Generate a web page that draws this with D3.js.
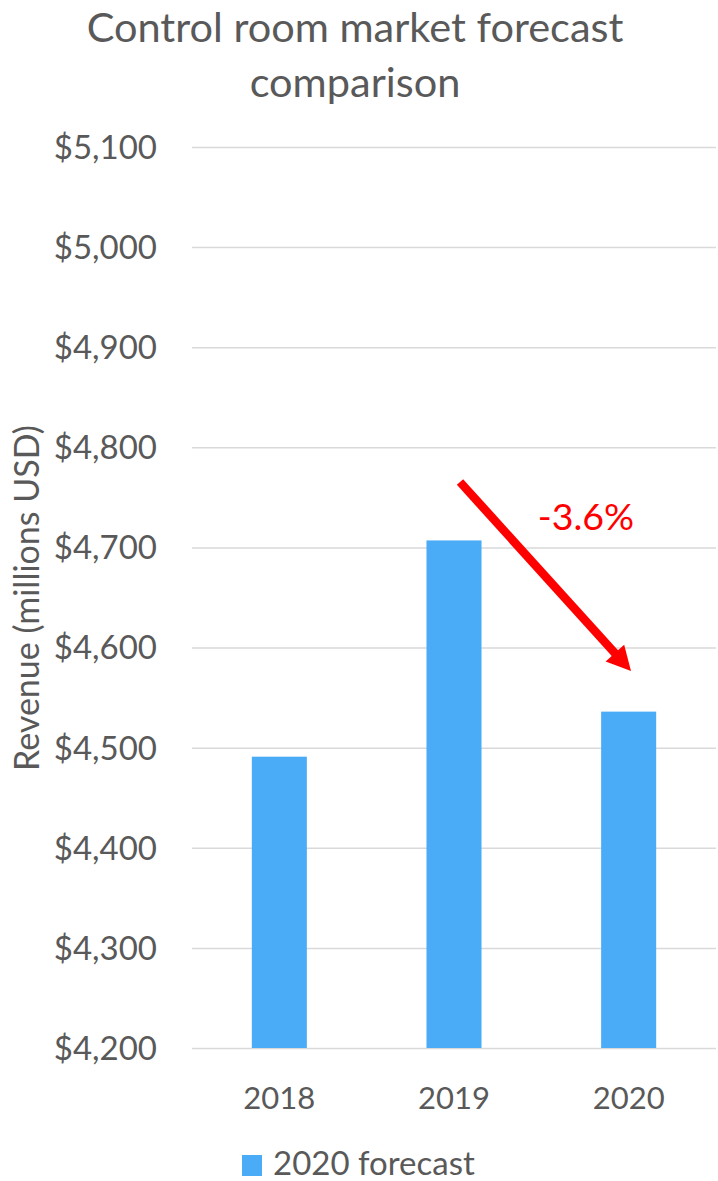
<!DOCTYPE html>
<html>
<head>
<meta charset="utf-8">
<script src="https://cdn.jsdelivr.net/npm/d3@7"></script>
<style>
  body { margin: 0; background: #fff; }
  svg text { font-family: Lato, "Open Sans", sans-serif; fill: #595959; }
  .grid line { stroke: #d9d9d9; stroke-width: 1.5; }
  .grid path { display: none; }
</style>
</head>
<body>
<script>
var years = ["2018", "2019", "2020"];
var revenue = [4491, 4707, 4536];
var yTicks = [4200, 4300, 4400, 4500, 4600, 4700, 4800, 4900, 5000, 5100];
var seriesName = "2020 forecast";
var changeLabel = "-3.6%";

var w = 718,
    h = 1181;
var plotLeft = 192, plotRight = 716, plotTop = 147, plotBottom = 1048;

var svg = d3.select("body")
  .append("svg")
  .attr("width", w)
  .attr("height", h);

var xScale = d3.scaleBand()
  .domain(years)
  .range([plotLeft, plotRight])
  .paddingInner(0.685)
  .paddingOuter(0.3425);

var yScale = d3.scaleLinear()
  .domain([4200, 5100])
  .range([plotBottom, plotTop]);

// title
svg.append("text")
  .attr("x", 355).attr("y", 42)
  .attr("text-anchor", "middle")
  .style("font-size", "41.5px")
  .text("Control room market forecast");
svg.append("text")
  .attr("x", 355).attr("y", 97)
  .attr("text-anchor", "middle")
  .style("font-size", "41.5px")
  .text("comparison");

// gridlines
svg.append("g")
  .attr("class", "grid")
  .attr("transform", "translate(" + plotLeft + ",0)")
  .call(d3.axisRight(yScale).tickValues(yTicks).tickSize(plotRight - plotLeft).tickFormat(""));

// y tick labels
svg.selectAll(".ylab")
  .data(yTicks)
  .enter()
  .append("text")
  .attr("class", "ylab")
  .attr("x", 157)
  .attr("y", function(d) { return yScale(d); })
  .attr("dy", "0.36em")
  .attr("text-anchor", "end")
  .style("font-size", "33px")
  .text(function(d) { return "$" + d3.format(",")(d); });

// y axis title
svg.append("text")
  .attr("transform", "translate(39,598) rotate(-90)")
  .attr("text-anchor", "middle")
  .style("font-size", "34px")
  .text("Revenue (millions USD)");

// bars
svg.selectAll("rect.bar")
  .data(revenue)
  .enter()
  .append("rect")
  .attr("class", "bar")
  .attr("x", function(d, i) { return xScale(years[i]); })
  .attr("y", function(d) { return yScale(d); })
  .attr("width", xScale.bandwidth())
  .attr("height", function(d) { return plotBottom - yScale(d); })
  .attr("fill", "#4aabf7");

// x labels
svg.selectAll(".xlab")
  .data(years)
  .enter()
  .append("text")
  .attr("class", "xlab")
  .attr("x", function(d) { return xScale(d) + xScale.bandwidth() / 2; })
  .attr("y", 1109)
  .attr("text-anchor", "middle")
  .style("font-size", "31px")
  .text(function(d) { return d; });

// arrow annotation
var a0 = [460, 482], a1 = [631, 671];
var dx = a1[0] - a0[0], dy = a1[1] - a0[1];
var len = Math.sqrt(dx * dx + dy * dy);
var ux = dx / len, uy = dy / len;
var headLen = 24, headHalf = 12.5;
var base = [a1[0] - headLen * ux, a1[1] - headLen * uy];

svg.append("line")
  .attr("x1", a0[0]).attr("y1", a0[1])
  .attr("x2", base[0] + 2 * ux).attr("y2", base[1] + 2 * uy)
  .attr("stroke", "#ff0000")
  .attr("stroke-width", 8.5);

svg.append("path")
  .attr("d", d3.line()([
    a1,
    [base[0] - headHalf * uy, base[1] + headHalf * ux],
    [base[0] + headHalf * uy, base[1] - headHalf * ux]
  ]) + "Z")
  .attr("fill", "#ff0000");

svg.append("text")
  .attr("x", 586).attr("y", 530)
  .attr("text-anchor", "middle")
  .style("font-size", "37.5px")
  .style("fill", "#ff0000")
  .text(changeLabel);

// legend
svg.append("rect")
  .attr("x", 242).attr("y", 1155)
  .attr("width", 20).attr("height", 21)
  .attr("fill", "#4aabf7");
svg.append("text")
  .attr("x", 273).attr("y", 1175)
  .style("font-size", "33px")
  .text(seriesName);
</script>
</body>
</html>
